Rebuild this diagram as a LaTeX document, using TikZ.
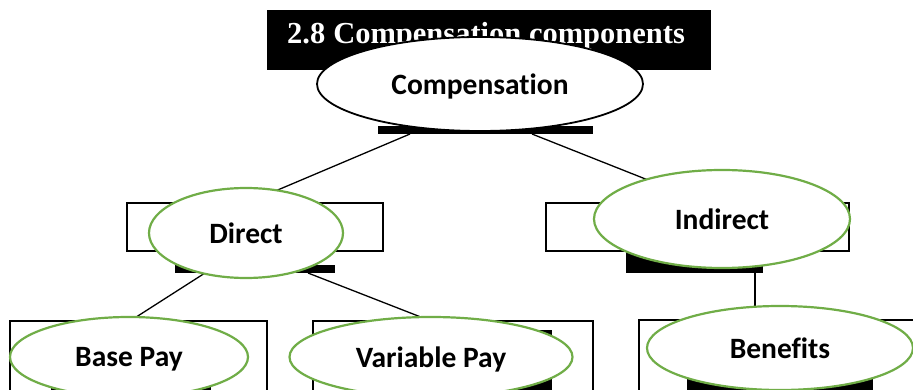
\documentclass[tikz,border=0pt]{standalone}
\usepackage{fontspec}
\setmainfont{Liberation Serif}
\newfontfamily\calib[Ligatures=NoCommon]{Carlito}
\usetikzlibrary{shapes.geometric}
\definecolor{ogreen}{HTML}{70AD47}
\tikzset{
  box/.style={draw=black, line width=1.3pt, fill=white},
  bar/.style={fill=black, draw=none},
  lbl/.style={ellipse, fill=white, inner sep=0pt, text depth=0pt,
     font=\calib\bfseries\fontsize{29.5}{34}\selectfont},
  topell/.style={lbl, draw=black, line width=1.8pt},
  grell/.style={lbl, draw=ogreen, line width=2.2pt},
  conn/.style={draw=black, line width=1.3pt},
}
\begin{document}
\begin{tikzpicture}[x=1pt,y=-1pt]
\useasboundingbox (0,0) rectangle (913,390);
\clip (0,0) rectangle (913,390);
% title
\fill[black] (267,10) rectangle (711,70) coordinate (ttl);
\node[anchor=base west, inner sep=0pt, text=white, font=\bfseries\fontsize{30.5}{36}\selectfont] (titletext) at (287,44) {2.8\hspace{8pt}Compensation components};
% rectangles and bars
\draw[box] (127,203) rectangle (383,251);
\draw[box] (546,203) rectangle (849,251);
\draw[box] (10,321) rectangle (267,400);
\draw[box] (313,321) rectangle (593,400);
\draw[box] (639,320) rectangle (930,400);
\path[bar] (378,126) rectangle (593,134);
\path[bar] (175,265) rectangle (335,273);
\path[bar] (626,251) rectangle (763,273);
\path[bar] (51,330) rectangle (211,400);
\path[bar] (347,330) rectangle (552,400);
\path[bar] (687,330) rectangle (873,400);
% connector coordinates
\coordinate (c1a) at (410,134); \coordinate (c1b) at (247,203);
\coordinate (c2a) at (532,134); \coordinate (c2b) at (706,203);
\coordinate (c3a) at (205,273); \coordinate (c3b) at (130,321);
\coordinate (c4a) at (308,273); \coordinate (c4b) at (431,321);
\coordinate (c5a) at (755,273); \coordinate (c5b) at (755,320);
\draw[conn] (c1a) -- (c1b);
\draw[conn] (c2a) -- (c2b);
\draw[conn] (c3a) -- (c3b);
\draw[conn] (c4a) -- (c4b);
\draw[conn] (c5a) -- (c5b);
% ellipses
\node[topell, minimum width=326pt, minimum height=94pt] (comp) at (480,84) {Compensation};
\node[grell, minimum width=194pt, minimum height=90pt] (direct) at (246,233) {Direct};
\node[grell, minimum width=256pt, minimum height=98pt] (indirect) at (722,219) {Indirect};
\node[grell, minimum width=238pt, minimum height=80pt] (base) at (129,357) {Base Pay};
\node[grell, minimum width=283pt, minimum height=80pt] (var) at (431,357) {Variable Pay};
\node[grell, minimum width=266pt, minimum height=84pt] (ben) at (780,348) {Benefits};
\end{tikzpicture}
\end{document}
